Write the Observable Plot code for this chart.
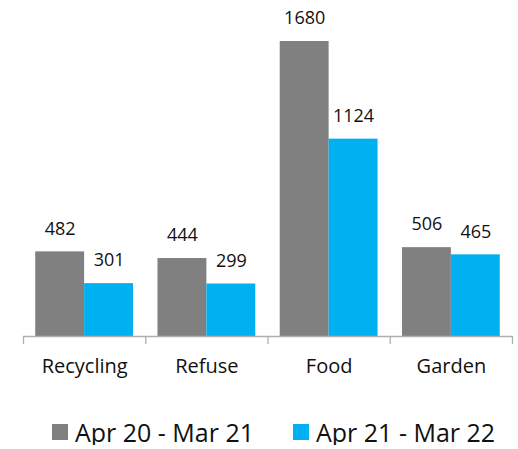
<!DOCTYPE html>
<html>
<head>
<meta charset="utf-8">
<script src="https://cdn.jsdelivr.net/npm/d3@7"></script>
<script src="https://cdn.jsdelivr.net/npm/@observablehq/plot@0.6"></script>
<style>
  body { margin: 0; background: #fff; font-family: "Open Sans", sans-serif; overflow: hidden; }
  #chart { width: 518px; }
  .legend { display: flex; justify-content: center; align-items: center; height: 26px; line-height: 26px; margin-top: 39px; font-size: 25px; color: #111; padding-left: 29px; }
  .item { display: flex; align-items: center; margin: 0 19.5px; white-space: nowrap; }
  .swatch { width: 16px; height: 16px; margin-right: 7px; }
</style>
</head>
<body>
<div id="chart"></div>
<script>
const categories = ["Recycling", "Refuse", "Food", "Garden"];
const series = ["Apr 20 - Mar 21", "Apr 21 - Mar 22"];
const valuesApr20 = [482, 444, 1680, 506];
const valuesApr21 = [301, 299, 1124, 465];
const colors = ["#808080", "#00b0f0"];

const rows = [];
[valuesApr20, valuesApr21].forEach((vals, si) => {
  vals.forEach((v, ci) => rows.push({category: categories[ci], ci, series: series[si], si, value: v}));
});
const boundaries = d3.range(categories.length + 1).map(i => i - 0.5);
const barW = 0.4;

const plot = Plot.plot({
  width: 518,
  height: 380,
  marginLeft: 23,
  marginRight: 6,
  marginTop: 41,
  marginBottom: 44,
  style: {fontFamily: "'Open Sans', sans-serif", background: "#fff"},
  x: {type: "linear", domain: [-0.5, categories.length - 0.5], axis: null},
  y: {type: "linear", domain: [0, d3.max(valuesApr20.concat(valuesApr21))], axis: null},
  color: {domain: series, range: colors},
  marks: [
    Plot.rect(rows, {
      x1: d => d.ci - barW + d.si * barW,
      x2: d => d.ci + d.si * barW,
      y1: 0,
      y2: "value",
      fill: "series"
    }),
    Plot.text(rows, {
      x: d => d.ci - barW / 2 + d.si * barW,
      y: "value",
      text: d => String(d.value),
      dy: -23,
      fontSize: 18,
      fill: "#111"
    }),
    Plot.ruleY([0], {stroke: "#b0b0b0", strokeWidth: 1.3}),
    Plot.ruleX(boundaries, {x: d => d, y1: 0, y2: 0, insetBottom: -8, stroke: "#b0b0b0", strokeWidth: 1.3}),
    Plot.text(categories, {
      x: (d, i) => i,
      y: 0,
      text: d => d,
      dy: 30,
      fontSize: 20,
      fill: "#111"
    })
  ]
});
document.getElementById("chart").appendChild(plot);

const legend = document.createElement("div");
legend.className = "legend";
series.forEach((s, i) => {
  const item = document.createElement("div");
  item.className = "item";
  const sw = document.createElement("span");
  sw.className = "swatch";
  sw.style.background = colors[i];
  const label = document.createElement("span");
  label.textContent = s;
  item.appendChild(sw);
  item.appendChild(label);
  legend.appendChild(item);
});
document.getElementById("chart").appendChild(legend);
</script>
</body>
</html>
